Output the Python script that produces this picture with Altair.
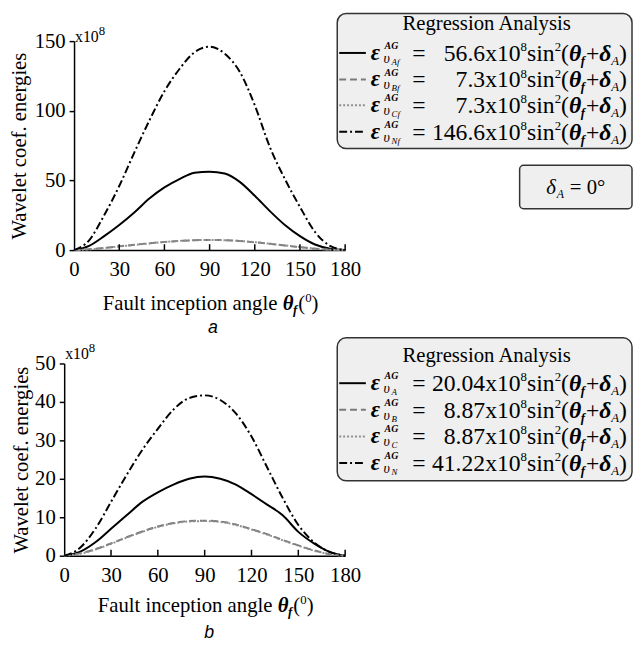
import altair as alt
import pandas as pd

SERIF = "Liberation Serif"
SANS = "Liberation Sans"

# ---------------- data ----------------
angles = [0, 10, 20, 30, 40, 50, 60, 70, 80, 90, 100, 110, 120, 130, 140, 150, 160, 170, 180]

a_A = [0, 3, 10, 18, 27, 37, 45, 51, 55.5, 56.3, 55, 49, 39, 28, 18, 10, 4, 1, 0]
a_B = [0, 0.6, 1.6, 2.7, 3.8, 4.9, 5.9, 6.6, 7.1, 7.3, 7.1, 6.5, 5.6, 4.5, 3.3, 2.1, 1.0, 0.3, 0]
a_C = [0, 0.5, 1.5, 2.6, 3.7, 4.8, 5.8, 6.6, 7.1, 7.3, 7.1, 6.6, 5.7, 4.6, 3.4, 2.2, 1.1, 0.3, 0]
a_N = [0, 7, 25, 46, 70, 93, 114, 130, 142, 146, 141, 128, 104, 74, 51, 31, 13, 3, 0]

b_A = [0, 1, 3.5, 7, 10.5, 14, 16.5, 18.5, 20, 20.6, 20, 18.5, 16, 13.3, 10.5, 6.2, 3.2, 1, 0]
b_B = [0, 0.6, 1.7, 3.2, 4.8, 6.3, 7.6, 8.5, 9.0, 9.1, 8.9, 8.1, 6.9, 5.6, 4.1, 2.7, 1.4, 0.4, 0]
b_C = [0, 0.5, 1.6, 3.1, 4.7, 6.2, 7.5, 8.4, 8.9, 9.0, 8.8, 8.0, 6.8, 5.5, 4.0, 2.6, 1.3, 0.4, 0]
b_N = [0, 2, 7, 14, 21, 27.5, 33, 38, 41, 41.7, 40.5, 37, 31, 23, 15, 8, 3.5, 1, 0]

x_ticks = [0, 30, 60, 90, 120, 150, 180]
a_y_ticks = [0, 50, 100, 150]
b_y_ticks = [0, 10, 20, 30, 40, 50]

a_numbers = ["56.6", "7.3", "7.3", "146.6"]
a_subs = ["Af", "Bf", "Cf", "Nf"]
b_numbers = ["20.04", "8.87", "8.87", "41.22"]
b_subs = ["A", "B", "C", "N"]

STYLES = [
    dict(color="black", dash=None),
    dict(color="#7a7a7a", dash=[7, 4]),
    dict(color="#8f8f8f", dash=[2, 2]),
    dict(color="black", dash=[8, 3, 2, 3]),
]

WID = {c: 0.5 for c in "0123456789"}
WID.update({'x': .5, 's': .389, 'i': .278, 'n': .5, '(': .333, ')': .333, '+': .564,
            '=': .564, '.': .25, ' ': .25, '°': .4, 'θ': .5, 'δ': .5, 'f': .333,
            'A': .611, 'F': .556, 'a': .444, 'u': .5, 'l': .278, 't': .278, 'c': .444,
            'e': .444, 'p': .5, 'o': .5, 'g': .5})


def tw(s, size):
    return sum(WID.get(c, .5) for c in s) * size


ONE = pd.DataFrame({"k": [0]})


def T(x, y, s, size=21, style="normal", weight="normal", align="left",
      baseline="alphabetic", font=SERIF, color="black"):
    return alt.Chart(ONE).mark_text(
        text=s, align=align, baseline=baseline, font=font, fontSize=size,
        fontStyle=style, fontWeight=weight, color=color
    ).encode(x=alt.value(x), y=alt.value(y))


def anchor(x, y):
    # invisible mark that fixes the panel's layout bounds
    return alt.Chart(ONE).mark_rule(strokeOpacity=0, strokeWidth=1).encode(
        x=alt.value(x), y=alt.value(y), y2=alt.value(y + 1))


def run(x0, base, segs):
    out = []
    x = x0
    for s, size, style, weight, dy, pad in segs:
        x += pad
        out.append(T(x, base + dy, s, size, style, weight))
        x += tw(s, size)
    return out, x


def run_width(segs):
    return sum(tw(s, size) + pad for s, size, style, weight, dy, pad in segs)


EQ = 24


def rhs_segs():
    return [
        ("x10", EQ, "normal", "normal", 0, 0),
        ("8", 13, "normal", "normal", -10, 0),
        ("sin", EQ, "normal", "normal", 0, 0),
        ("2", 13, "normal", "normal", -10, 0),
        ("(", EQ, "normal", "normal", 0, 0),
        ("θ", EQ, "italic", "bold", 0, 0),
        ("f", 13, "italic", "bold", 4, 0),
        ("+", EQ, "normal", "normal", 0, 1),
        ("δ", EQ, "italic", "bold", 0, 0),
        ("A", 13, "italic", "normal", 4, 0),
        (")", EQ, "normal", "normal", 0, 0),
    ]


def panel(W, H, x0, ymax, yticks, series, numbers, subs, box, title_y, rows_y,
          x10pos, xtitle_y, letter, letter_pos, eq_x10, eq_eq, ytitle_x,
          anchors, delta=None):
    # x0: pixel position of the y axis inside the panel (range start)
    xs = alt.Scale(domain=[0, 180], nice=False, zero=False, range=[x0, W])
    ys = alt.Scale(domain=[0, ymax], nice=False)
    xaxis = alt.Axis(values=x_ticks, title=None, ticks=False, labelPadding=9,
                     labelFlush=False, format="d")
    yaxis = alt.Axis(values=yticks, title="Wavelet coef. energies", tickSize=5,
                     tickWidth=1.5, tickColor="black", labelPadding=4,
                     titleX=ytitle_x, titleY=H / 2, titleAngle=270,
                     titleAlign="center", titleBaseline="middle",
                     format="d", offset=-x0)
    layers = [anchor(ax, ay) for ax, ay in anchors]
    for vals, st in zip(series, STYLES):
        df = pd.DataFrame({"angle": angles, "v": vals})
        kw = dict(color=st["color"], strokeWidth=2, interpolate="monotone")
        if st["dash"]:
            kw["strokeDash"] = st["dash"]
        layers.append(alt.Chart(df).mark_line(**kw).encode(
            x=alt.X("angle:Q", scale=xs, axis=xaxis),
            y=alt.Y("v:Q", scale=ys, axis=yaxis)))
    # inward x ticks
    tdf = pd.DataFrame({"angle": x_ticks[1:]})
    layers.append(alt.Chart(tdf).mark_rule(color="black", strokeWidth=1.5).encode(
        x=alt.X("angle:Q", scale=xs, axis=xaxis),
        y=alt.value(H - 6), y2=alt.value(H)))
    # x10^8
    layers.append(T(x0 + x10pos[0], x10pos[1], "x10", 16))
    layers.append(T(x0 + x10pos[0] + tw("x10", 16), x10pos[1] - 7, "8", 13))
    # x axis title
    tsegs = [
        ("Fault inception angle ", 21, "normal", "normal", 0, 0),
        ("θ", 21, "italic", "bold", 0, 0),
        ("f", 13, "italic", "bold", 4, 0),
        ("(", 21, "normal", "normal", 0, 1),
        ("0", 13, "normal", "normal", -8, 0),
        (")", 21, "normal", "normal", 0, 0),
    ]
    tot = run_width(tsegs)
    tl, _ = run((x0 + W) / 2 + 1 - tot / 2, xtitle_y + 7, tsegs)
    layers += tl
    layers.append(T(letter_pos[0], letter_pos[1], letter, 18, style="italic",
                    align="center", baseline="middle", font=SANS))
    # legend box
    bx1, by1, bx2, by2 = box
    layers.append(alt.Chart(ONE).mark_rect(
        cornerRadius=9, fill="#efefef", stroke="#333333", strokeWidth=1.5
    ).encode(x=alt.value(bx1), x2=alt.value(bx2), y=alt.value(by1), y2=alt.value(by2)))
    layers.append(T((bx1 + bx2) / 2 + 2, title_y, "Regression Analysis", 21,
                    align="center", baseline="middle"))
    for ry, st, num, sub in zip(rows_y, STYLES, numbers, subs):
        kw = dict(color=st["color"], strokeWidth=2)
        if st["dash"]:
            kw["strokeDash"] = st["dash"]
        layers.append(alt.Chart(ONE).mark_rule(**kw).encode(
            x=alt.value(bx1 + 2), x2=alt.value(bx1 + 29), y=alt.value(ry)))
        base = ry + 8
        layers.append(T(bx1 + 34, base - 1, "ε", 23, style="italic", weight="bold"))
        layers.append(T(bx1 + 48, ry - 4, "AG", 10, style="italic", weight="bold"))
        layers.append(T(bx1 + 47, ry + 10, "υ", 14, style="italic"))
        layers.append(T(bx1 + 55, ry + 12, sub, 9, style="italic"))
        layers.append(T(bx1 + eq_eq, base, "=", EQ))
        layers.append(T(bx1 + eq_x10, base, num, EQ, align="right"))
        rl, _ = run(bx1 + eq_x10, base, rhs_segs())
        layers += rl
    if delta is not None:
        dx1, dy1, dx2, dy2 = delta
        layers.append(alt.Chart(ONE).mark_rect(
            cornerRadius=4, fill="#efefef", stroke="#333333", strokeWidth=1.5
        ).encode(x=alt.value(dx1), x2=alt.value(dx2), y=alt.value(dy1), y2=alt.value(dy2)))
        dsegs = [
            ("δ", 21, "italic", "normal", 0, 0),
            ("A", 12, "italic", "normal", 4, 0),
            ("= 0°", 21, "normal", "normal", 0, 6),
        ]
        dw = run_width(dsegs)
        dl, _ = run((dx1 + dx2) / 2 - dw / 2, (dy1 + dy2) / 2 + 7, dsegs)
        layers += dl
    return alt.layer(*layers).properties(width=W, height=H)


pa = panel(285, 212, 10, 150, a_y_ticks, [a_A, a_B, a_C, a_N], a_numbers, a_subs,
           box=(277, -28, 576, 109), title_y=-17, rows_y=[12, 39, 65, 92],
           x10pos=(1, 1), xtitle_y=266, letter="a", letter_pos=(151, 291),
           eq_x10=150, eq_eq=76, ytitle_x=-55, anchors=[(-56, 0), (0, 299)],
           delta=(462, 126, 576, 170))
pb = panel(285, 195, 0, 50, b_y_ticks, [b_A, b_B, b_C, b_N], b_numbers, b_subs,
           box=(277, -26, 576, 119), title_y=-8, rows_y=[20, 47, 74, 101],
           x10pos=(1, -5), xtitle_y=245, letter="b", letter_pos=(147, 273),
           eq_x10=150, eq_eq=76, ytitle_x=-43, anchors=[(-56, 0), (0, -27)])

chart = alt.vconcat(pa, pb, spacing=0).properties(
    padding=0
).configure_view(stroke=None).configure_axis(
    labelFont=SERIF, titleFont=SERIF, labelFontSize=21, titleFontSize=21,
    labelColor="black", titleColor="black", titleFontWeight="normal",
    domainColor="black", domainWidth=1.5, grid=False
)

chart.save("out.html", embed_options={"renderer": "svg", "actions": False})
